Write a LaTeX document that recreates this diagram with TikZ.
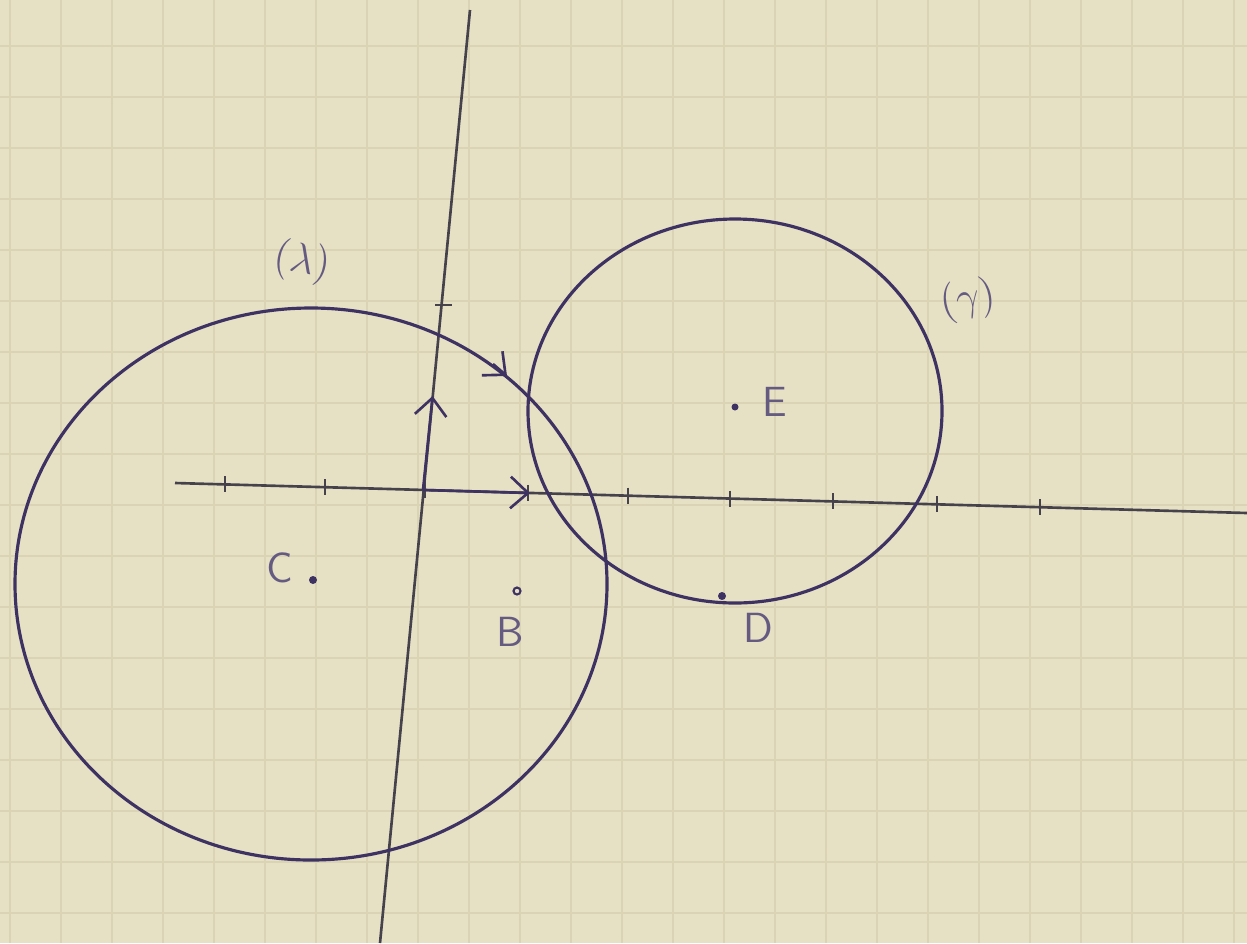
\documentclass[tikz,border=0pt]{standalone}
\usepackage{amsmath}
\usetikzlibrary{arrows.meta}
\definecolor{paper}{HTML}{E6E1C4}
\definecolor{gridc}{HTML}{DAD4B5}
\definecolor{ink}{HTML}{3E3262}
\definecolor{pencil}{HTML}{45424C}
\tikzset{ax/.style={pencil, line width=0.75pt},
         crc/.style={ink, line width=0.9pt},
         vec/.style={ink, line width=0.75pt, -{Straight Barb[length=5pt,width=9pt]}},
         tk/.style={pencil, line width=0.8pt},
         lb/.style={ink!80, font=\large\sffamily, inner sep=1pt}}

\begin{document}
\begin{tikzpicture}[x=0.1mm,y=-0.1mm]
                \fill[paper] (0,0) rectangle (1247,943);
                \useasboundingbox (0,0) rectangle (1247,943);
                % grid paper
                \foreach \gx in {10,61,...,1247} \draw[gridc, line width=0.5pt] (\gx,0) -- (\gx,943);
                \foreach \gy in {46,97,...,943} \draw[gridc, line width=0.5pt] (0,\gy) -- (1247,\gy);
                % axes
                \coordinate (xl) at (175,483);
                \coordinate (xr) at (1247,513);
                \coordinate (yt) at (470,10);
                \coordinate (yb) at (380,943);
                \coordinate (O) at (423,490);
                \coordinate (I) at (530,493);
                \coordinate (J) at (432.6,396);
                \draw[ax] (xl) -- (xr);
                \draw[ax] (yt) -- (yb);
                \foreach \tx in {225,325,425,528,628,730,833,937,1040}
                    \draw[tk] (\tx,{483+(\tx-175)*0.028-8}) -- ++(0,16);
                \draw[tk] (435,305) -- ++(17,0);
                \draw[vec] (O) -- (I);
                \draw[vec] (O) -- (J);
                % circles
                \coordinate (C) at (313,580);
                \coordinate (E) at (735,407);
                \draw[crc] (311,584) ellipse [x radius=296, y radius=276];
                \draw[crc] (735,411) ellipse [x radius=207, y radius=192];
                \draw[vec] (493,364) -- (507,376);
                % points
                \fill[ink] (C) circle (4);
                \fill[ink] (E) circle (3.5);
                \draw[ink, line width=0.6pt] (517,591) circle (3.5);
                \fill[ink] (722,596) circle (4);
                \node[lb] (c) at (280,568) {C};
                \node[lb] (b) at (510,632) {B};
                \node[lb] (e) at (775,402) {E};
                \node[lb] (d) at (758,628) {D};
                \node[lb, rotate=-10] (lam) at (302,262) {$(\lambda)$};
                \node[lb, rotate=10] (gam) at (968,300) {$(\gamma)$};
            \end{tikzpicture}
\end{document}
